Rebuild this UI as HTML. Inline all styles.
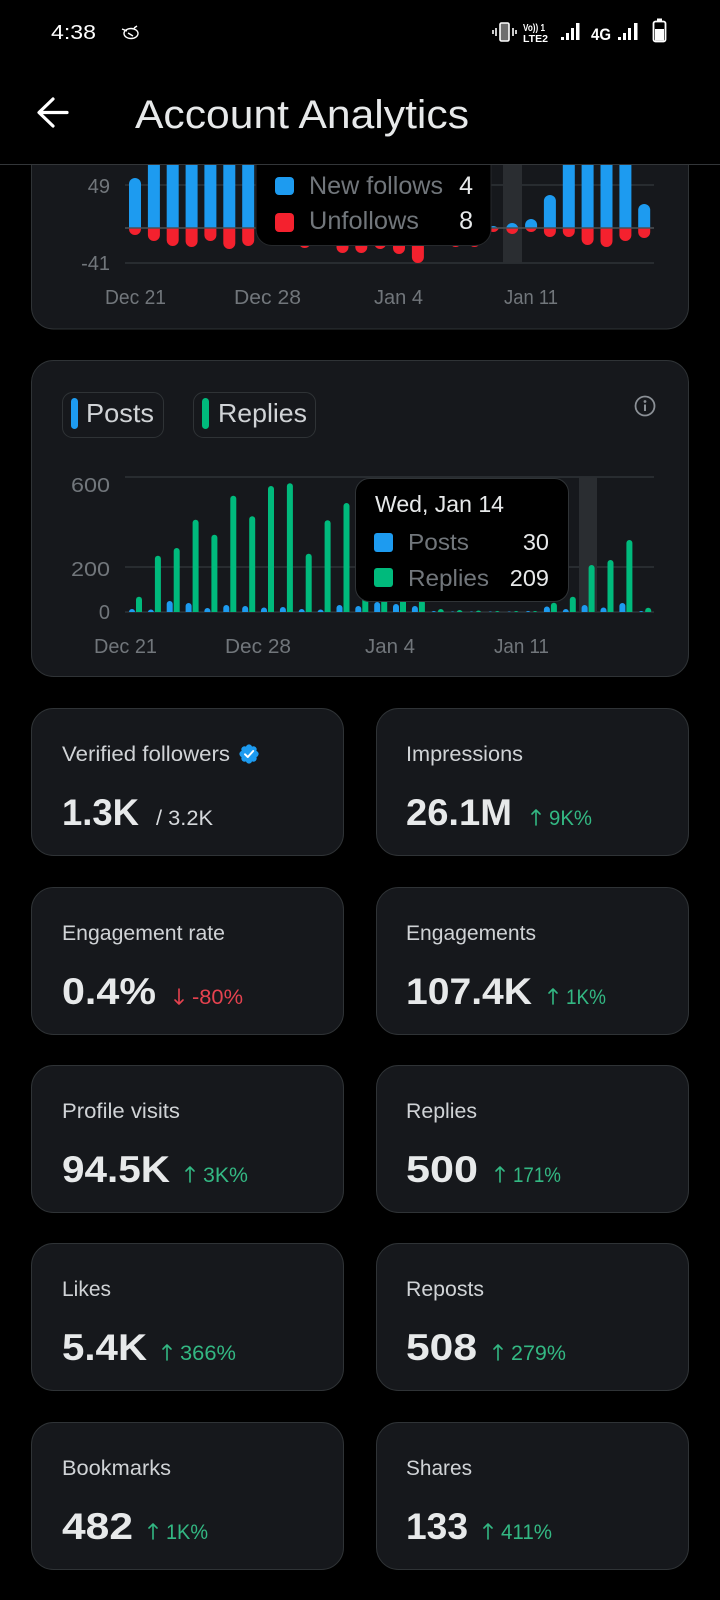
<!DOCTYPE html>
<html>
<head>
<meta charset="utf-8">
<style>
html,body{margin:0;padding:0;background:#000;}
body{width:720px;height:1600px;overflow:hidden;}
svg{display:block;}
</style>
</head>
<body>
<svg width="720" height="1600" viewBox="0 0 720 1600" xmlns="http://www.w3.org/2000/svg" font-family="'Liberation Sans', Arial, sans-serif">
<defs>
  <clipPath id="c1a"><rect x="0" y="0" width="720" height="228"/></clipPath>
  <clipPath id="c1b"><rect x="0" y="228" width="720" height="200"/></clipPath>
  <clipPath id="c2"><rect x="0" y="0" width="720" height="612"/></clipPath>
</defs>
<rect x="0" y="0" width="720" height="1600" fill="#000"/>

<!-- ============ CHART 1 (follows) ============ -->
<rect x="31.5" y="-20" width="657" height="349" rx="22" fill="#16181c" stroke="#2f3336" stroke-width="1"/>
<line x1="125" y1="185" x2="654" y2="185" stroke="#2f3336" stroke-width="1.5"/>
<line x1="125" y1="263" x2="654" y2="263" stroke="#2f3336" stroke-width="1.5"/>
<rect x="503" y="120" width="19" height="143" fill="#2a2d31"/>
<text x="110" y="193" font-size="20" fill="#71767b" text-anchor="end">49</text>
<text x="110" y="270" font-size="20" fill="#71767b" text-anchor="end">-41</text>

<g clip-path="url(#c1a)" fill="#1d9bf0">
  <rect x="129" y="178" width="12" height="60" rx="6"/>
  <rect x="147.9" y="100" width="12" height="138" rx="6"/>
  <rect x="166.7" y="100" width="12" height="138" rx="6"/>
  <rect x="185.6" y="100" width="12" height="138" rx="6"/>
  <rect x="204.4" y="100" width="12" height="138" rx="6"/>
  <rect x="223.3" y="100" width="12" height="138" rx="6"/>
  <rect x="242.2" y="100" width="12" height="138" rx="6"/>
  <rect x="261" y="150" width="12" height="88" rx="6"/>
  <rect x="279.9" y="170" width="12" height="68" rx="6"/>
  <rect x="298.7" y="190" width="12" height="48" rx="6"/>
  <rect x="317.6" y="205" width="12" height="33" rx="6"/>
  <rect x="336.5" y="200" width="12" height="38" rx="6"/>
  <rect x="355.3" y="195" width="12" height="43" rx="6"/>
  <rect x="374.2" y="205" width="12" height="33" rx="6"/>
  <rect x="393" y="210" width="12" height="28" rx="6"/>
  <rect x="411.9" y="215" width="12" height="23" rx="6"/>
  <rect x="430.8" y="218" width="12" height="20" rx="6"/>
  <rect x="449.6" y="212" width="12" height="26" rx="6"/>
  <rect x="468.5" y="215" width="12" height="23" rx="6"/>
  <rect x="487.3" y="226" width="12" height="12" rx="6"/>
  <rect x="506.2" y="223" width="12" height="15" rx="6"/>
  <rect x="525.1" y="219" width="12" height="19" rx="6"/>
  <rect x="543.9" y="195" width="12" height="43" rx="6"/>
  <rect x="562.8" y="100" width="12" height="138" rx="6"/>
  <rect x="581.6" y="100" width="12" height="138" rx="6"/>
  <rect x="600.5" y="100" width="12" height="138" rx="6"/>
  <rect x="619.4" y="100" width="12" height="138" rx="6"/>
  <rect x="638.2" y="204" width="12" height="34" rx="6"/>
</g>
<g clip-path="url(#c1b)" fill="#f4212e">
  <rect x="129" y="218" width="12" height="17" rx="6"/>
  <rect x="147.9" y="218" width="12" height="23" rx="6"/>
  <rect x="166.7" y="218" width="12" height="28" rx="6"/>
  <rect x="185.6" y="218" width="12" height="29" rx="6"/>
  <rect x="204.4" y="218" width="12" height="23" rx="6"/>
  <rect x="223.3" y="218" width="12" height="31" rx="6"/>
  <rect x="242.2" y="218" width="12" height="28" rx="6"/>
  <rect x="261" y="218" width="12" height="22" rx="6"/>
  <rect x="279.9" y="218" width="12" height="20" rx="6"/>
  <rect x="298.7" y="218" width="12" height="30" rx="6"/>
  <rect x="317.6" y="218" width="12" height="22" rx="6"/>
  <rect x="336.5" y="218" width="12" height="35" rx="6"/>
  <rect x="355.3" y="218" width="12" height="35" rx="6"/>
  <rect x="374.2" y="218" width="12" height="31" rx="6"/>
  <rect x="393" y="218" width="12" height="36" rx="6"/>
  <rect x="411.9" y="218" width="12" height="45" rx="6"/>
  <rect x="430.8" y="218" width="12" height="22" rx="6"/>
  <rect x="449.6" y="218" width="12" height="29" rx="6"/>
  <rect x="468.5" y="218" width="12" height="29" rx="6"/>
  <rect x="487.3" y="218" width="12" height="14" rx="6"/>
  <rect x="506.2" y="218" width="12" height="16" rx="6"/>
  <rect x="525.1" y="218" width="12" height="14" rx="6"/>
  <rect x="543.9" y="218" width="12" height="19" rx="6"/>
  <rect x="562.8" y="218" width="12" height="19" rx="6"/>
  <rect x="581.6" y="218" width="12" height="27" rx="6"/>
  <rect x="600.5" y="218" width="12" height="29" rx="6"/>
  <rect x="619.4" y="218" width="12" height="23" rx="6"/>
  <rect x="638.2" y="218" width="12" height="20" rx="6"/>
</g>
<line x1="125" y1="228" x2="654" y2="228" stroke="#4d5155" stroke-width="1.5"/>

<text x="105" y="304" font-size="20" fill="#71767b" textLength="61" lengthAdjust="spacingAndGlyphs">Dec 21</text>
<text x="234" y="304" font-size="20" fill="#71767b" textLength="67" lengthAdjust="spacingAndGlyphs">Dec 28</text>
<text x="374" y="304" font-size="20" fill="#71767b" textLength="49" lengthAdjust="spacingAndGlyphs">Jan 4</text>
<text x="504" y="304" font-size="20" fill="#71767b" textLength="54" lengthAdjust="spacingAndGlyphs">Jan 11</text>

<!-- tooltip 1 -->
<rect x="256" y="100" width="235" height="145.5" rx="16" fill="#000" stroke="#26292c" stroke-width="1"/>
<rect x="275" y="177" width="19" height="18" rx="4" fill="#1d9bf0"/>
<text x="309" y="194" font-size="25" fill="#71767b" textLength="134" lengthAdjust="spacingAndGlyphs">New follows</text>
<text x="473" y="194" font-size="25" fill="#e7e9ea" text-anchor="end">4</text>
<rect x="275" y="213" width="19" height="19" rx="4" fill="#f4212e"/>
<text x="309" y="229" font-size="25" fill="#71767b" textLength="110" lengthAdjust="spacingAndGlyphs">Unfollows</text>
<text x="473" y="229" font-size="25" fill="#e7e9ea" text-anchor="end">8</text>

<!-- ============ HEADER ============ -->
<rect x="0" y="0" width="720" height="164" fill="#000"/>
<line x1="0" y1="164.5" x2="720" y2="164.5" stroke="#333639" stroke-width="1"/>
<text x="51" y="39" font-size="20" fill="#fff" textLength="45" lengthAdjust="spacingAndGlyphs">4:38</text>
<g fill="none" stroke="#fff" stroke-width="1.4">
  <ellipse cx="131" cy="33.5" rx="7" ry="5"/>
  <path d="M122 29 L127 31 M134 28 L137 26 M128 33 L133 36"/>
</g>
<!-- status icons -->
<g fill="none" stroke="#fff" stroke-width="1.6">
  <rect x="500" y="23" width="9" height="18" rx="1.5" fill="#6e6e6e"/>
  <path d="M496 28 V36 M493 30 V34 M513 28 V36 M516 30 V34"/>
</g>
<text x="523" y="31" font-size="10" font-weight="bold" fill="#fff" textLength="22" lengthAdjust="spacingAndGlyphs">Vo)) 1</text>
<text x="523" y="42" font-size="10" font-weight="bold" fill="#fff" textLength="25" lengthAdjust="spacingAndGlyphs">LTE2</text>
<g fill="#fff">
  <rect x="561" y="37" width="3" height="3"/>
  <rect x="566" y="33" width="3" height="7"/>
  <rect x="571" y="28" width="3" height="12"/>
  <rect x="576" y="23" width="3.5" height="17"/>
  <rect x="618" y="37" width="3" height="3"/>
  <rect x="623" y="33" width="3" height="7"/>
  <rect x="628" y="28" width="3" height="12"/>
  <rect x="634" y="23" width="3.5" height="17"/>
</g>
<text x="591" y="40" font-size="17" font-weight="bold" fill="#fff" textLength="20" lengthAdjust="spacingAndGlyphs">4G</text>
<rect x="653.5" y="21.5" width="12" height="20" rx="2" fill="none" stroke="#fff" stroke-width="1.8"/>
<rect x="657" y="18.5" width="5" height="3" fill="#fff"/>
<rect x="655" y="29" width="9" height="11.5" fill="#fff"/>

<path d="M67 112.5 H40 M53 99 L39 112.5 L53 126" fill="none" stroke="#fff" stroke-width="3.2" stroke-linecap="round" stroke-linejoin="round"/>
<text x="135" y="128" font-size="40" fill="#e7e9ea" textLength="334" lengthAdjust="spacingAndGlyphs">Account Analytics</text>

<!-- ============ CHART 2 (posts/replies) ============ -->
<rect x="31.5" y="360.5" width="657" height="316" rx="22" fill="#16181c" stroke="#2f3336" stroke-width="1"/>
<rect x="62.5" y="392.5" width="101" height="45" rx="10" fill="none" stroke="#2f3336" stroke-width="1"/>
<rect x="71" y="398" width="7" height="31" rx="3.5" fill="#1d9bf0"/>
<text x="86" y="422" font-size="26" fill="#d0d3d6" textLength="68" lengthAdjust="spacingAndGlyphs">Posts</text>
<rect x="193.5" y="392.5" width="122" height="45" rx="10" fill="none" stroke="#2f3336" stroke-width="1"/>
<rect x="202" y="398" width="7" height="31" rx="3.5" fill="#00ba7c"/>
<text x="218" y="422" font-size="26" fill="#d0d3d6" textLength="89" lengthAdjust="spacingAndGlyphs">Replies</text>
<circle cx="645" cy="406" r="9.5" fill="none" stroke="#8b9096" stroke-width="1.8"/>
<circle cx="645" cy="401.5" r="1.4" fill="#8b9096"/>
<line x1="645" y1="404.5" x2="645" y2="411" stroke="#8b9096" stroke-width="2"/>

<line x1="125" y1="477" x2="654" y2="477" stroke="#2f3336" stroke-width="1.5"/>
<line x1="125" y1="567" x2="654" y2="567" stroke="#2f3336" stroke-width="1.5"/>
<line x1="125" y1="612" x2="654" y2="612" stroke="#2f3336" stroke-width="1.5"/>
<rect x="579" y="477" width="18" height="135" fill="#2a2d31"/>
<text x="110" y="492" font-size="20" fill="#71767b" text-anchor="end" textLength="39" lengthAdjust="spacingAndGlyphs">600</text>
<text x="110" y="576" font-size="20" fill="#71767b" text-anchor="end" textLength="39" lengthAdjust="spacingAndGlyphs">200</text>
<text x="110" y="619" font-size="20" fill="#71767b" text-anchor="end">0</text>

<g clip-path="url(#c2)" fill="#1d9bf0">
  <rect x="129" y="609" width="6" height="9" rx="3"/>
  <rect x="147.9" y="609.5" width="6" height="9" rx="3"/>
  <rect x="166.7" y="601" width="6" height="17" rx="3"/>
  <rect x="185.6" y="603" width="6" height="15" rx="3"/>
  <rect x="204.4" y="608" width="6" height="10" rx="3"/>
  <rect x="223.3" y="605" width="6" height="13" rx="3"/>
  <rect x="242.2" y="606" width="6" height="12" rx="3"/>
  <rect x="261" y="607.5" width="6" height="11" rx="3"/>
  <rect x="279.9" y="607" width="6" height="11" rx="3"/>
  <rect x="298.7" y="609" width="6" height="9" rx="3"/>
  <rect x="317.6" y="609.5" width="6" height="9" rx="3"/>
  <rect x="336.5" y="605" width="6" height="13" rx="3"/>
  <rect x="355.3" y="606" width="6" height="12" rx="3"/>
  <rect x="374.2" y="602" width="6" height="16" rx="3"/>
  <rect x="393" y="604" width="6" height="14" rx="3"/>
  <rect x="411.9" y="606" width="6" height="12" rx="3"/>
  <rect x="430.8" y="611" width="6" height="7" rx="3"/>
  <rect x="449.6" y="611.5" width="6" height="7" rx="3"/>
  <rect x="468.5" y="611.5" width="6" height="7" rx="3"/>
  <rect x="487.3" y="611.5" width="6" height="7" rx="3"/>
  <rect x="506.2" y="611.5" width="6" height="7" rx="3"/>
  <rect x="525.1" y="611" width="6" height="7" rx="3"/>
  <rect x="543.9" y="606.5" width="6" height="12" rx="3"/>
  <rect x="562.8" y="609" width="6" height="9" rx="3"/>
  <rect x="581.6" y="605" width="6" height="13" rx="3"/>
  <rect x="600.5" y="607.5" width="6" height="11" rx="3"/>
  <rect x="619.4" y="603" width="6" height="15" rx="3"/>
  <rect x="638.2" y="611" width="6" height="7" rx="3"/>
</g>
<g clip-path="url(#c2)" fill="#00ba7c">
  <rect x="136" y="596.7" width="6" height="22" rx="3"/>
  <rect x="154.9" y="555.7" width="6" height="63" rx="3"/>
  <rect x="173.7" y="548" width="6" height="70" rx="3"/>
  <rect x="192.6" y="519.7" width="6" height="99" rx="3"/>
  <rect x="211.4" y="534.7" width="6" height="84" rx="3"/>
  <rect x="230.3" y="495.7" width="6" height="123" rx="3"/>
  <rect x="249.2" y="516.3" width="6" height="102" rx="3"/>
  <rect x="268" y="486" width="6" height="132" rx="3"/>
  <rect x="286.9" y="483.3" width="6" height="135" rx="3"/>
  <rect x="305.7" y="553.7" width="6" height="65" rx="3"/>
  <rect x="324.6" y="520.3" width="6" height="98" rx="3"/>
  <rect x="343.5" y="503" width="6" height="115" rx="3"/>
  <rect x="362.3" y="540" width="6" height="78" rx="3"/>
  <rect x="381.2" y="570" width="6" height="48" rx="3"/>
  <rect x="400" y="585" width="6" height="33" rx="3"/>
  <rect x="418.9" y="600" width="6" height="18" rx="3"/>
  <rect x="437.8" y="609" width="6" height="9" rx="3"/>
  <rect x="456.6" y="610" width="6" height="8" rx="3"/>
  <rect x="475.5" y="610.5" width="6" height="8" rx="3"/>
  <rect x="494.3" y="611" width="6" height="7" rx="3"/>
  <rect x="513.2" y="611" width="6" height="7" rx="3"/>
  <rect x="532.1" y="611" width="6" height="7" rx="3"/>
  <rect x="550.9" y="602.7" width="6" height="16" rx="3"/>
  <rect x="569.8" y="596.7" width="6" height="22" rx="3"/>
  <rect x="588.6" y="565" width="6" height="53" rx="3"/>
  <rect x="607.5" y="560" width="6" height="58" rx="3"/>
  <rect x="626.4" y="540" width="6" height="78" rx="3"/>
  <rect x="645.2" y="607.7" width="6" height="11" rx="3"/>
</g>

<text x="94" y="653" font-size="20" fill="#71767b" textLength="63" lengthAdjust="spacingAndGlyphs">Dec 21</text>
<text x="225" y="653" font-size="20" fill="#71767b" textLength="66" lengthAdjust="spacingAndGlyphs">Dec 28</text>
<text x="365" y="653" font-size="20" fill="#71767b" textLength="50" lengthAdjust="spacingAndGlyphs">Jan 4</text>
<text x="494" y="653" font-size="20" fill="#71767b" textLength="55" lengthAdjust="spacingAndGlyphs">Jan 11</text>

<!-- tooltip 2 -->
<rect x="355.5" y="478.5" width="213" height="123" rx="14" fill="#000" stroke="#2f3336" stroke-width="1"/>
<text x="375" y="512" font-size="23.5" fill="#e7e9ea" textLength="129" lengthAdjust="spacingAndGlyphs">Wed, Jan 14</text>
<rect x="374" y="533" width="19" height="19" rx="3" fill="#1d9bf0"/>
<text x="408" y="550" font-size="23.5" fill="#71767b" textLength="61" lengthAdjust="spacingAndGlyphs">Posts</text>
<text x="549" y="550" font-size="23.5" fill="#e7e9ea" text-anchor="end">30</text>
<rect x="374" y="568" width="19" height="19" rx="3" fill="#00ba7c"/>
<text x="408" y="586" font-size="23.5" fill="#71767b" textLength="81" lengthAdjust="spacingAndGlyphs">Replies</text>
<text x="549" y="586" font-size="23.5" fill="#e7e9ea" text-anchor="end">209</text>

<!-- ============ STAT CARDS ============ -->
<g fill="#16181c" stroke="#2f3336" stroke-width="1">
  <rect x="31.5" y="708.5" width="312" height="147" rx="22"/>
  <rect x="376.5" y="708.5" width="312" height="147" rx="22"/>
  <rect x="31.5" y="887.5" width="312" height="147" rx="22"/>
  <rect x="376.5" y="887.5" width="312" height="147" rx="22"/>
  <rect x="31.5" y="1065.5" width="312" height="147" rx="22"/>
  <rect x="376.5" y="1065.5" width="312" height="147" rx="22"/>
  <rect x="31.5" y="1243.5" width="312" height="147" rx="22"/>
  <rect x="376.5" y="1243.5" width="312" height="147" rx="22"/>
  <rect x="31.5" y="1422.5" width="312" height="147" rx="22"/>
  <rect x="376.5" y="1422.5" width="312" height="147" rx="22"/>
</g>

<g font-size="21" fill="#d0d3d6">
  <text x="62" y="761" textLength="168" lengthAdjust="spacingAndGlyphs">Verified followers</text>
  <text x="406" y="761" textLength="117" lengthAdjust="spacingAndGlyphs">Impressions</text>
  <text x="62" y="940" textLength="163" lengthAdjust="spacingAndGlyphs">Engagement rate</text>
  <text x="406" y="940" textLength="130" lengthAdjust="spacingAndGlyphs">Engagements</text>
  <text x="62" y="1118" textLength="118" lengthAdjust="spacingAndGlyphs">Profile visits</text>
  <text x="406" y="1118" textLength="71" lengthAdjust="spacingAndGlyphs">Replies</text>
  <text x="62" y="1296" textLength="49" lengthAdjust="spacingAndGlyphs">Likes</text>
  <text x="406" y="1296" textLength="78" lengthAdjust="spacingAndGlyphs">Reposts</text>
  <text x="62" y="1475" textLength="109" lengthAdjust="spacingAndGlyphs">Bookmarks</text>
  <text x="406" y="1475" textLength="66" lengthAdjust="spacingAndGlyphs">Shares</text>
</g>

<!-- verified badge -->
<g fill="#1d9bf0">
  <circle cx="249" cy="754" r="7.5"/>
  <circle cx="249" cy="747.6" r="3.2"/>
  <circle cx="249" cy="760.4" r="3.2"/>
  <circle cx="242.6" cy="754" r="3.2"/>
  <circle cx="255.4" cy="754" r="3.2"/>
  <circle cx="244.5" cy="749.5" r="3.2"/>
  <circle cx="253.5" cy="749.5" r="3.2"/>
  <circle cx="244.5" cy="758.5" r="3.2"/>
  <circle cx="253.5" cy="758.5" r="3.2"/>
</g>
<path d="M245 754.3 L247.8 757 L253.2 751" fill="none" stroke="#fff" stroke-width="2" stroke-linecap="round" stroke-linejoin="round"/>

<g font-size="37" font-weight="bold" fill="#e7e9ea">
  <text x="62" y="825" textLength="77" lengthAdjust="spacingAndGlyphs">1.3K</text>
  <text x="406" y="825" textLength="106" lengthAdjust="spacingAndGlyphs">26.1M</text>
  <text x="62" y="1004" textLength="94" lengthAdjust="spacingAndGlyphs">0.4%</text>
  <text x="406" y="1004" textLength="126" lengthAdjust="spacingAndGlyphs">107.4K</text>
  <text x="62" y="1182" textLength="108" lengthAdjust="spacingAndGlyphs">94.5K</text>
  <text x="406" y="1182" textLength="72" lengthAdjust="spacingAndGlyphs">500</text>
  <text x="62" y="1360" textLength="85" lengthAdjust="spacingAndGlyphs">5.4K</text>
  <text x="406" y="1360" textLength="71" lengthAdjust="spacingAndGlyphs">508</text>
  <text x="62" y="1539" textLength="71" lengthAdjust="spacingAndGlyphs">482</text>
  <text x="406" y="1539" textLength="62" lengthAdjust="spacingAndGlyphs">133</text>
</g>

<text x="156" y="825" font-size="21" fill="#d6d9dc" textLength="57" lengthAdjust="spacingAndGlyphs">/ 3.2K</text>

<!-- change indicators -->
<g fill="#33b883" font-size="21">
  <text x="549" y="825" textLength="43" lengthAdjust="spacingAndGlyphs">9K%</text>
  <text x="566" y="1004" textLength="40" lengthAdjust="spacingAndGlyphs">1K%</text>
  <text x="203" y="1182" textLength="45" lengthAdjust="spacingAndGlyphs">3K%</text>
  <text x="513" y="1182" textLength="48" lengthAdjust="spacingAndGlyphs">171%</text>
  <text x="180" y="1360" textLength="56" lengthAdjust="spacingAndGlyphs">366%</text>
  <text x="511" y="1360" textLength="55" lengthAdjust="spacingAndGlyphs">279%</text>
  <text x="166" y="1539" textLength="42" lengthAdjust="spacingAndGlyphs">1K%</text>
  <text x="501" y="1539" textLength="51" lengthAdjust="spacingAndGlyphs">411%</text>
</g>
<g fill="none" stroke="#33b883" stroke-width="1.6" stroke-linecap="round" stroke-linejoin="round">
  <path d="M536 810 V825 M532 814 L536 810 L540 814"/>
  <path d="M553 989 V1004 M549 993 L553 989 L557 993"/>
  <path d="M190 1167 V1182 M186 1171 L190 1167 L194 1171"/>
  <path d="M500 1167 V1182 M496 1171 L500 1167 L504 1171"/>
  <path d="M167 1345 V1360 M163 1349 L167 1345 L171 1349"/>
  <path d="M498 1345 V1360 M494 1349 L498 1345 L502 1349"/>
  <path d="M153 1524 V1539 M149 1528 L153 1524 L157 1528"/>
  <path d="M488 1524 V1539 M484 1528 L488 1524 L492 1528"/>
</g>
<text x="192" y="1004" font-size="21" fill="#e5424f" textLength="51" lengthAdjust="spacingAndGlyphs">-80%</text>
<path d="M179 989 V1004 M175 1000 L179 1004 L183 1000" fill="none" stroke="#e5424f" stroke-width="1.6" stroke-linecap="round" stroke-linejoin="round"/>
</svg>
</body>
</html>
